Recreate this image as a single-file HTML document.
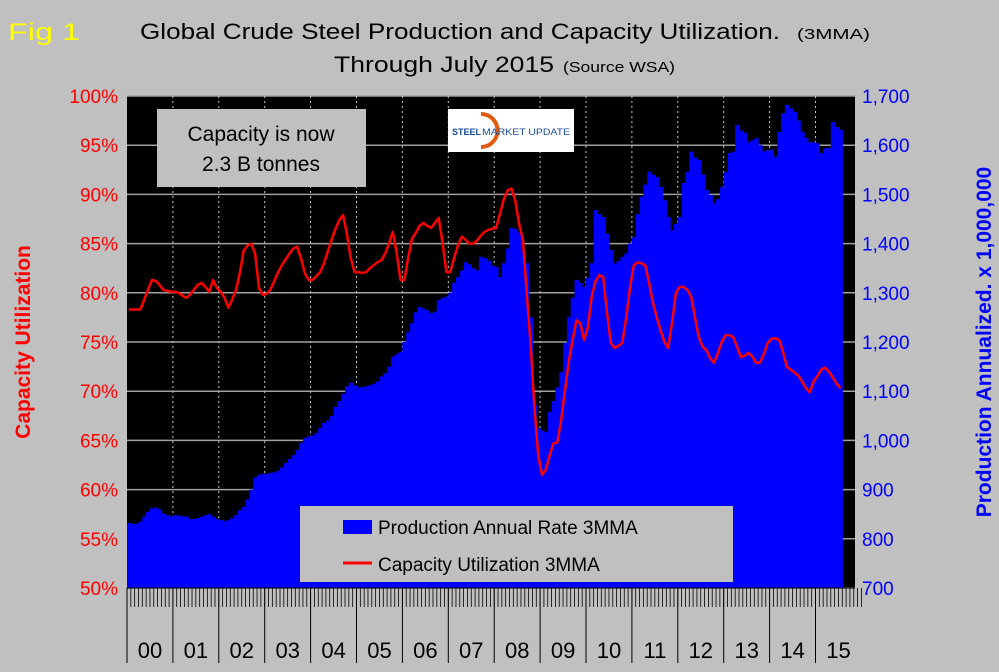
<!DOCTYPE html>
<html><head><meta charset="utf-8"><style>
html,body{margin:0;padding:0;background:#c0c0c0;}
svg{display:block;font-family:"Liberation Sans",sans-serif;}
</style></head><body>
<svg id="chart" width="999" height="672" xmlns="http://www.w3.org/2000/svg">
<rect x="0" y="0" width="999" height="672" fill="#c0c0c0"/>
<text x="8" y="40" font-size="24" fill="#ffff00" textLength="72" lengthAdjust="spacingAndGlyphs">Fig 1</text>
<text x="140" y="39" font-size="22" fill="#000" textLength="640" lengthAdjust="spacingAndGlyphs">Global Crude Steel Production and Capacity Utilization.</text>
<text x="797" y="39" font-size="15" fill="#000" textLength="73" lengthAdjust="spacingAndGlyphs">(3MMA)</text>
<text x="334" y="72" font-size="22" fill="#000" textLength="220" lengthAdjust="spacingAndGlyphs">Through July 2015</text>
<text x="563" y="72" font-size="15" fill="#000" textLength="112" lengthAdjust="spacingAndGlyphs">(Source WSA)</text>
<rect x="127" y="96" width="728" height="492" fill="#000"/>
<g id="grid"></g><g id="bars"></g><g id="line"></g><g id="axes"></g>
<g>
<rect x="157" y="109" width="209" height="78" fill="#c0c0c0"/>
<text x="261" y="141" font-size="21" text-anchor="middle" fill="#000">Capacity is now</text>
<text x="261" y="171" font-size="21" text-anchor="middle" fill="#000">2.3 B tonnes</text>
</g>
<g>
<rect x="448" y="109" width="126" height="43" fill="#fff"/>
<path d="M481 114 A12 12 0 1 1 481 147" fill="none" stroke="#e05a10" stroke-width="4"/>
<text x="452" y="135" font-size="9" font-weight="bold" fill="#1a4c9c">STEEL</text>
<text x="482" y="135" font-size="9" fill="#1a4c9c" textLength="88" lengthAdjust="spacingAndGlyphs">MARKET UPDATE</text>
</g>
<g>
<rect x="300" y="506" width="433" height="76" fill="#c0c0c0"/>
<rect x="343" y="520" width="29" height="14" fill="#0000ff"/>
<text x="378" y="534" font-size="19" fill="#000">Production Annual Rate 3MMA</text>
<line x1="343" y1="563" x2="372" y2="563" stroke="#ff0000" stroke-width="3"/>
<text x="378" y="571" font-size="19" fill="#000">Capacity Utilization 3MMA</text>
</g>
<text transform="translate(30,342) rotate(-90)" font-size="21" font-weight="bold" fill="#ff0000" text-anchor="middle">Capacity Utilization</text>
<text transform="translate(991,342) rotate(-90)" font-size="21" font-weight="bold" fill="#0000ff" text-anchor="middle">Production Annualized. x 1,000,000</text>
</svg>
<script>
const years = ["00","01","02","03","04","05","06","07","08","09","10","11","12","13","14","15"];
const leftTicks = [50,55,60,65,70,75,80,85,90,95,100];
const rightTicks = [700,800,900,1000,1100,1200,1300,1400,1500,1600,1700];
const production = [
832,830,831,835,845,855,862,863,860,852,848,846,
848,847,846,845,840,840,842,845,848,850,845,840,
838,836,838,842,848,858,865,880,900,925,930,932,
932,934,935,938,945,954,962,970,980,995,1005,1008,
1010,1015,1025,1035,1040,1050,1068,1080,1095,1110,1117,1112,
1108,1108,1110,1112,1115,1120,1130,1137,1150,1170,1175,1180,
1200,1220,1238,1260,1271,1268,1265,1259,1262,1285,1290,1292,
1300,1320,1332,1345,1362,1358,1350,1346,1373,1370,1365,1355,
1352,1332,1360,1390,1432,1430,1423,1387,1360,1250,1072,1025,
1020,1017,1058,1080,1108,1139,1198,1251,1290,1326,1320,1312,
1330,1360,1468,1460,1454,1420,1387,1360,1365,1373,1380,1400,
1413,1460,1495,1520,1546,1540,1535,1515,1488,1454,1427,1440,
1454,1523,1546,1587,1575,1570,1540,1509,1499,1482,1490,1515,
1545,1584,1587,1641,1630,1625,1606,1610,1614,1600,1587,1590,
1591,1577,1627,1665,1682,1675,1668,1650,1627,1615,1606,1606,
1604,1584,1594,1594,1647,1637,1631];
const capacity = [
78.3,78.3,78.3,78.3,79.3,80.3,81.3,81.2,80.8,80.3,80.2,80.1,
80.1,80.0,79.7,79.5,79.8,80.3,80.8,81.0,80.6,80.1,81.3,80.5,
80.1,79.5,78.5,79.3,80.3,82.0,84.3,84.8,85.0,84.0,80.5,79.8,
79.9,80.3,81.2,82.1,82.8,83.4,84.0,84.5,84.7,83.5,82.0,81.3,
81.3,81.7,82.1,83.0,84.2,85.4,86.5,87.4,87.9,86.0,83.5,82.1,
82.1,82.0,82.1,82.5,82.8,83.1,83.3,84.0,85.0,86.2,84.0,81.3,
81.3,83.5,85.5,86.1,86.8,87.1,86.8,86.6,87.1,87.6,85.0,82.1,
82.1,83.5,84.8,85.7,85.4,85.0,85.0,85.3,85.8,86.2,86.4,86.5,
86.6,88.0,89.5,90.4,90.6,89.4,87.0,85.4,80.0,75.0,68.4,63.5,
61.5,62.0,63.5,64.7,64.8,67.0,70.1,73.0,75.2,77.2,76.9,75.2,
76.5,79.6,81.2,81.8,81.6,78.0,74.9,74.4,74.6,74.9,77.5,80.5,
82.8,83.1,83.0,82.8,81.0,79.0,77.5,76.2,75.0,74.4,77.0,80.0,
80.6,80.6,80.3,79.6,77.5,75.5,74.5,74.2,73.3,72.9,73.9,75.0,
75.7,75.7,75.5,74.5,73.5,73.6,73.9,73.5,72.9,72.9,73.8,74.9,
75.3,75.4,75.2,74.0,72.5,72.2,71.9,71.6,71.0,70.3,69.9,71.0,
71.5,72.2,72.4,72.0,71.4,70.8,70.3];

const NS="http://www.w3.org/2000/svg";
const X0=127, MW=45.9/12, TOP=96, BOT=588;
const xM = i => X0 + i*MW;
const yL = v => BOT - (v-50)/50*(BOT-TOP);
const yR = v => BOT - (v-700)/1000*(BOT-TOP);
function mk(tag, attrs, parent){const e=document.createElementNS(NS,tag);for(const k in attrs)e.setAttribute(k,attrs[k]);parent.appendChild(e);return e;}
const grid=document.getElementById('grid'), bars=document.getElementById('bars'), line=document.getElementById('line'), axes=document.getElementById('axes');

leftTicks.forEach((t,i)=>{
  const y=yL(t);
  const g=mk('line',{x1:X0,x2:855,y1:y,y2:y,stroke:'#a0a0a0','stroke-width':1.5},grid);
  
  
  const lt=mk('text',{x:118,y:y+7,'font-size':19,fill:'#ff0000','text-anchor':'end'},axes);
  lt.textContent=t+'%';
  
  
});
rightTicks.forEach(t=>{
  const y=yR(t);
  const rt=mk('text',{x:862,y:y+7,'font-size':19,fill:'#0000ff'},axes);
  rt.textContent=t.toLocaleString('en-US');
  
  
});
years.forEach((yr,i)=>{
  const x=xM(i*12);
  if(i>0){
    const d=mk('line',{x1:x,x2:x,y1:TOP,y2:BOT,stroke:'#c8c8c8','stroke-width':1,'stroke-dasharray':'2,3'},grid);
    
    
  }
  const s=mk('line',{x1:x,x2:x,y1:BOT,y2:663,stroke:'#000','stroke-width':1},axes);
  
  
  const tx=mk('text',{x:x+23,y:658,'font-size':22,fill:'#000','text-anchor':'middle'},axes);
  tx.textContent=yr;
  
  
});
for(let i=0;i<=192;i++){
  const x=xM(i);
  const tk=mk('line',{x1:x,x2:x,y1:BOT,y2:607,stroke:'#000','stroke-width':0.8},axes);
  
  
}
const ax=mk('line',{x1:X0,x2:855,y1:BOT,y2:BOT,stroke:'#000','stroke-width':1},axes);



production.forEach((v,i)=>{
  const y=yR(v);
  const b=mk('rect',{x:xM(i),y:y,width:MW+0.6,height:BOT-y,fill:'#0000ff'},bars);
  
  
});
const pts=capacity.map((v,i)=>(xM(i+0.5)).toFixed(1)+','+yL(v).toFixed(1)).join(' ');
const pl=mk('polyline',{points:pts,fill:'none',stroke:'#ff0000','stroke-width':2.5,'stroke-linejoin':'round'},line);


</script>
</body></html>
